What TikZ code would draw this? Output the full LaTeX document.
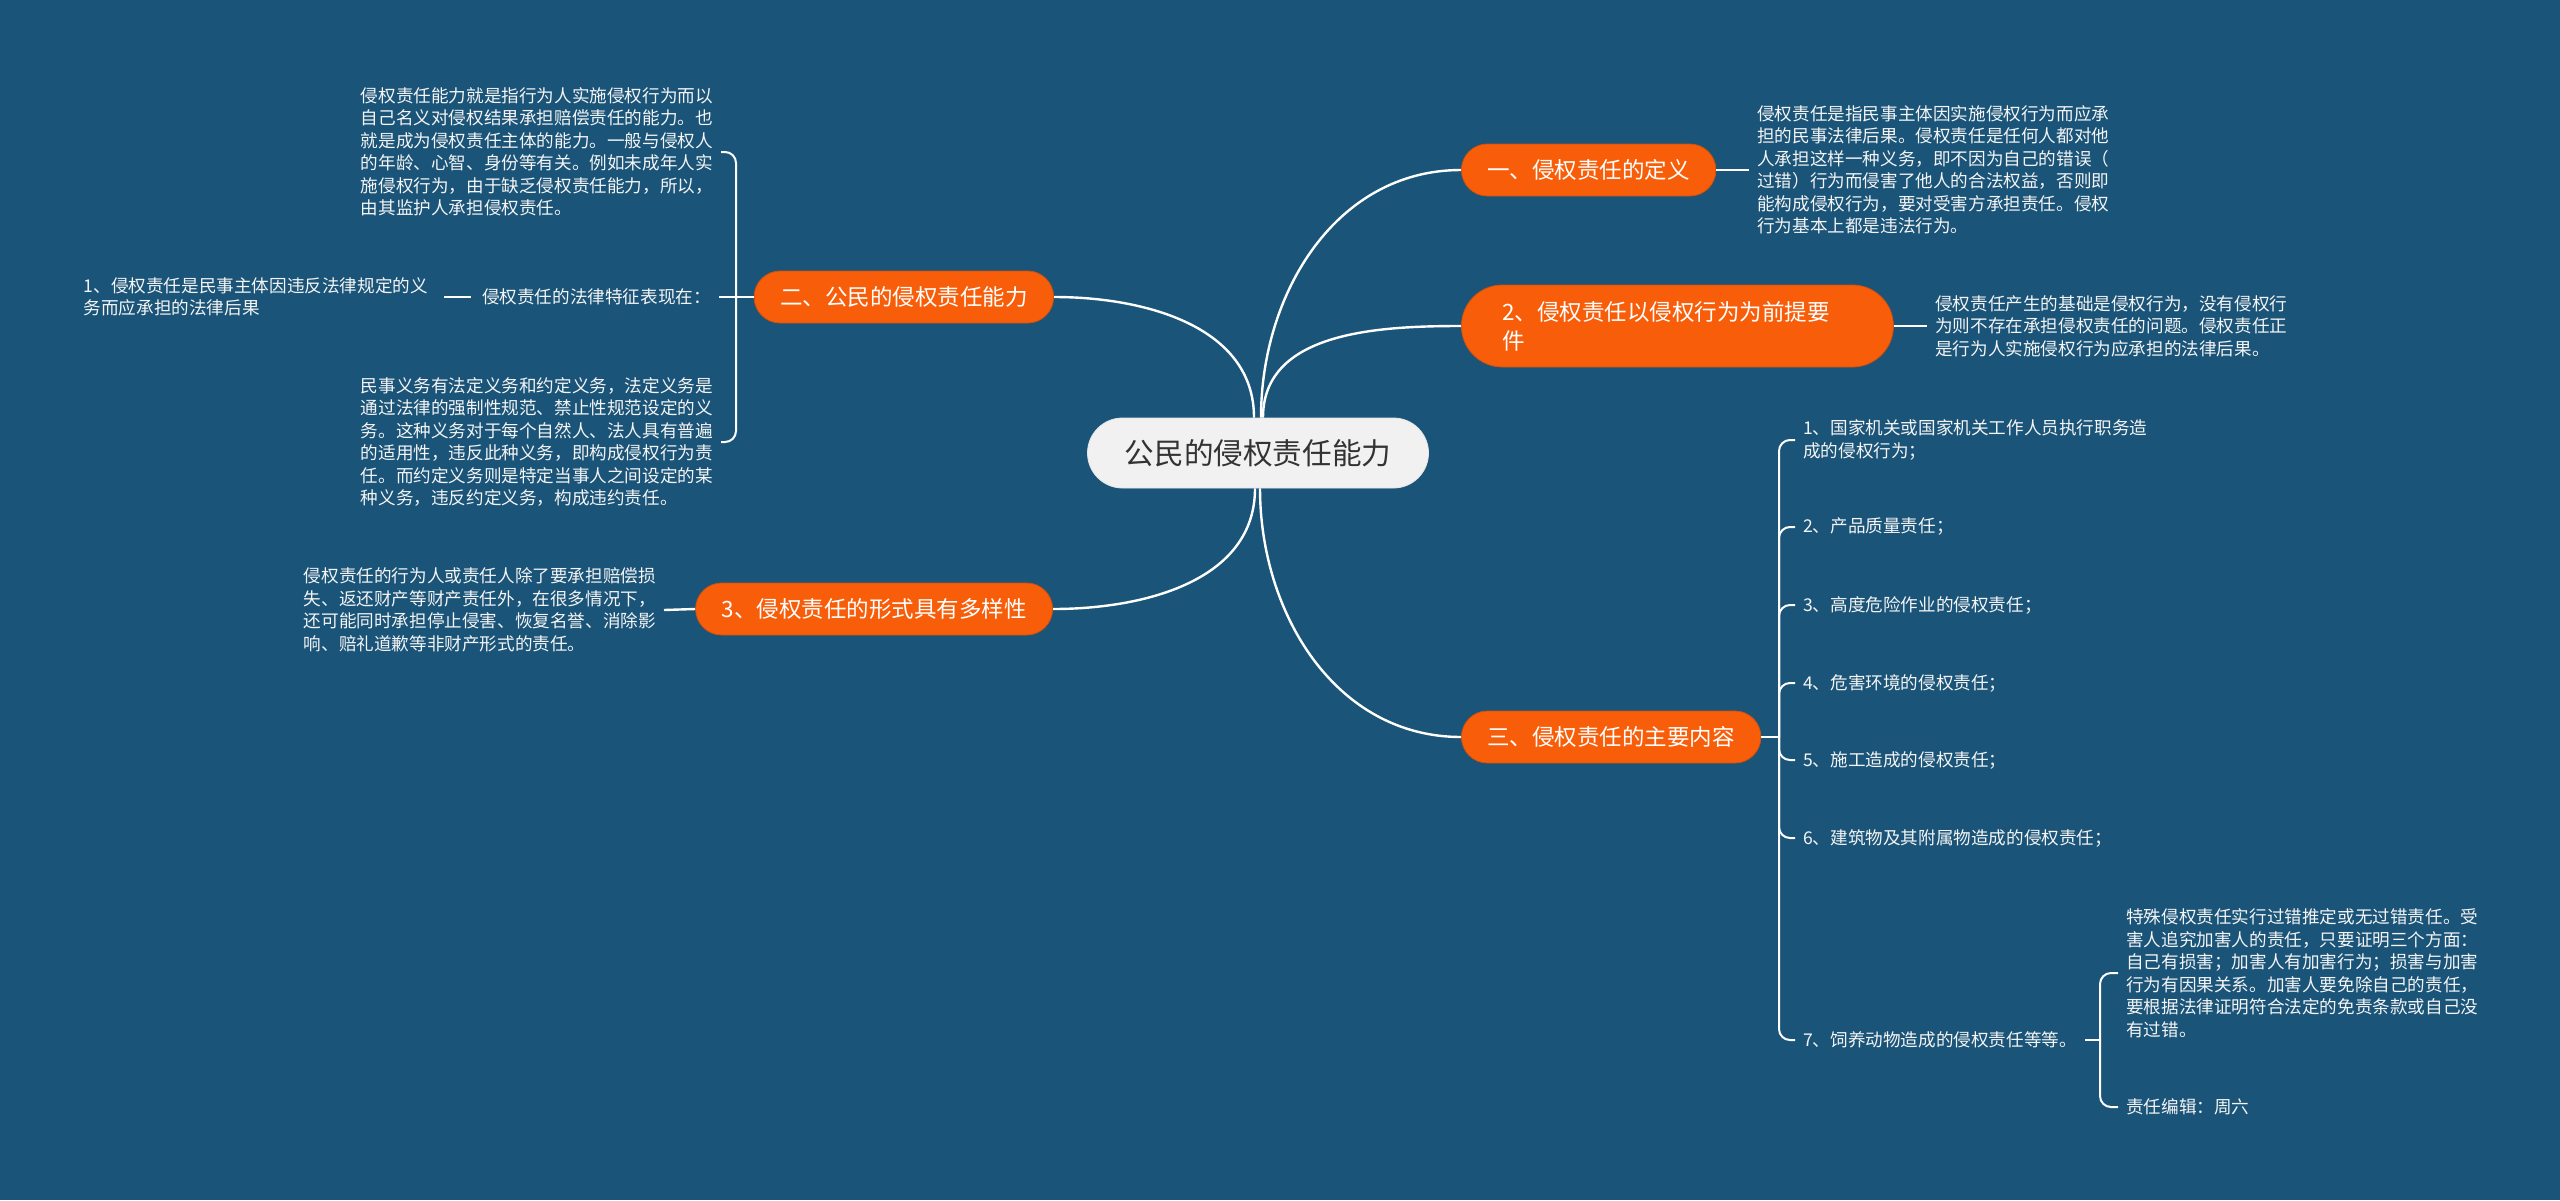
\documentclass[tikz,border=0pt]{standalone}
\usepackage{fontspec}
\setmainfont{Noto Sans CJK SC}
\definecolor{bgc}{HTML}{1A5478}
\definecolor{orc}{HTML}{F85E09}
\definecolor{ore}{HTML}{D2500C}
\definecolor{txc}{HTML}{F4F4F4}
\definecolor{cfill}{HTML}{F1F1F1}
\definecolor{ctext}{HTML}{333333}
\tikzset{
  obox/.style={fill=orc, draw=ore, line width=0.8pt, rounded corners=26pt, text=white,
    font=\fontsize{22.5}{29}\selectfont, minimum height=52pt, inner xsep=26pt, inner ysep=0pt},
  cbox/.style={fill=cfill, draw=white!80!gray, line width=0.8pt, rounded corners=35pt, text=ctext,
    font=\fontsize{29.6}{36}\selectfont, minimum width=341pt, minimum height=70pt},
  txt/.style={text=txc, font=\fontsize{17.6}{22.5}\selectfont, align=left, inner xsep=8pt, inner ysep=2pt},
  conn/.style={draw=white, line width=2.4pt},
  brk/.style={draw=white, line width=2pt, rounded corners=11pt},
}
\begin{document}
\begin{tikzpicture}[x=1pt,y=-1pt]
\fill[bgc] (0,0) rectangle (2560,1200);
\useasboundingbox (0,0) rectangle (2560,1200);

% central and main branches
\node[cbox] (c) at (1258,453) {公民的侵权责任能力};
\node[obox, anchor=west] (r1) at (1461,170) {一、侵权责任的定义};
\node[obox, anchor=west, minimum height=82pt, rounded corners=41pt, align=left, inner xsep=41pt, text width=350pt] (r2) at (1461,326) {2、侵权责任以侵权行为为前提要\\件};
\node[obox, anchor=west] (r3) at (1461,737) {三、侵权责任的主要内容};
\node[obox, anchor=east] (l1) at (1054,297) {二、公民的侵权责任能力};
\node[obox, anchor=east] (l2) at (1053,609) {3、侵权责任的形式具有多样性};

% right texts
\node[txt, anchor=west] (r1t) at (1749,170) {侵权责任是指民事主体因实施侵权行为而应承\\担的民事法律后果。侵权责任是任何人都对他\\人承担这样一种义务，即不因为自己的错误（\\过错）行为而侵害了他人的合法权益，否则即\\能构成侵权行为，要对受害方承担责任。侵权\\行为基本上都是违法行为。};
\node[txt, anchor=west] (r2t) at (1927,326) {侵权责任产生的基础是侵权行为，没有侵权行\\为则不存在承担侵权责任的问题。侵权责任正\\是行为人实施侵权行为应承担的法律后果。};

\node[txt, anchor=west] (a1) at (1795,440) {1、国家机关或国家机关工作人员执行职务造\\成的侵权行为；};
\node[txt, anchor=west] (a2) at (1795,527) {2、产品质量责任；};
\node[txt, anchor=west] (a3) at (1795,605) {3、高度危险作业的侵权责任；};
\node[txt, anchor=west] (a4) at (1795,683) {4、危害环境的侵权责任；};
\node[txt, anchor=west] (a5) at (1795,760) {5、施工造成的侵权责任；};
\node[txt, anchor=west] (a6) at (1795,838) {6、建筑物及其附属物造成的侵权责任；};
\node[txt, anchor=west] (a7) at (1795,1040) {7、饲养动物造成的侵权责任等等。};
\node[txt, anchor=west] (a7a) at (2118,973) {特殊侵权责任实行过错推定或无过错责任。受\\害人追究加害人的责任，只要证明三个方面：\\自己有损害；加害人有加害行为；损害与加害\\行为有因果关系。加害人要免除自己的责任，\\要根据法律证明符合法定的免责条款或自己没\\有过错。};
\node[txt, anchor=west] (a7b) at (2118,1107) {责任编辑：周六};

% left texts
\node[txt, anchor=east] (l1a) at (721,152) {侵权责任能力就是指行为人实施侵权行为而以\\自己名义对侵权结果承担赔偿责任的能力。也\\就是成为侵权责任主体的能力。一般与侵权人\\的年龄、心智、身份等有关。例如未成年人实\\施侵权行为，由于缺乏侵权责任能力，所以，\\由其监护人承担侵权责任。};
\node[txt, anchor=east] (l1b) at (719,297) {侵权责任的法律特征表现在：};
\node[txt, anchor=east] (l1c) at (436,297) {1、侵权责任是民事主体因违反法律规定的义\\务而应承担的法律后果};
\node[txt, anchor=east] (l1d) at (721,442) {民事义务有法定义务和约定义务，法定义务是\\通过法律的强制性规范、禁止性规范设定的义\\务。这种义务对于每个自然人、法人具有普遍\\的适用性，违反此种义务，即构成侵权行为责\\任。而约定义务则是特定当事人之间设定的某\\种义务，违反约定义务，构成违约责任。};
\node[txt, anchor=east] (l2t) at (664,610) {侵权责任的行为人或责任人除了要承担赔偿损\\失、返还财产等财产责任外，在很多情况下，\\还可能同时承担停止侵害、恢复名誉、消除影\\响、赔礼道歉等非财产形式的责任。};

% junctions
\coordinate (jl) at (736,297);
\coordinate (jr) at (1779,737);
\coordinate (j7) at (2100,1040);

% main curves
\draw[conn] ([xshift=3pt]c.north) to[out=90,in=180] (r1.west);
\draw[conn] ([xshift=5pt]c.north) to[out=90,in=180] (r2.west);
\draw[conn] ([xshift=-4pt]c.north) to[out=90,in=0] (l1.east);
\draw[conn] ([xshift=-3pt]c.south) to[out=-90,in=0] (l2.east);
\draw[conn] ([xshift=2pt]c.south) to[out=-90,in=180] (r3.west);

% straight links
\draw[conn] (r1.east) -- (r1t.west);
\draw[conn] (r2.east) -- (r2t.west);
\draw[conn] (l2t.east) -- (l2.west);
\draw[conn] (l1.west) -- (l1b.east);
\draw[conn] ([xshift=8pt]l1c.east) -- ([xshift=-3pt]l1b.west);
\draw[conn] (r3.east) -- (jr);
\draw[conn] (a7.east) -- (j7);

% brackets
\draw[brk] (jl) |- (l1a.east);
\draw[brk] (jl) |- (l1d.east);
\foreach \n in {a1,a2,a3,a4,a5,a6,a7} \draw[brk] (jr) |- (\n.west);
\draw[brk] (j7) |- (a7a.west);
\draw[brk] (j7) |- (a7b.west);
\end{tikzpicture}
\end{document}
